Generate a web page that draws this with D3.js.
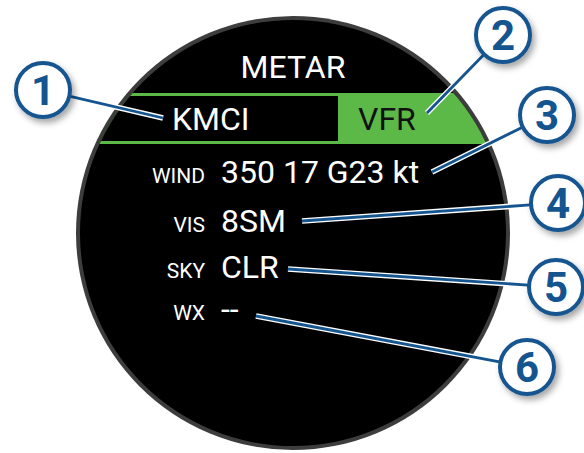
<!DOCTYPE html>
<html>
<head>
<meta charset="utf-8">
<script src="https://cdn.jsdelivr.net/npm/d3@7"></script>
<style>
  html, body { margin: 0; padding: 0; background: #fff; }
  svg { display: block; font-family: Roboto, "Liberation Sans", sans-serif; }
</style>
</head>
<body>
<svg id="vis" width="584" height="453"></svg>
<script>
// screen content
var title = "METAR";
var station = "KMCI";
var category = "VFR";
var rowLabels = ["WIND", "VIS", "SKY", "WX"];
var rowValues = ["350 17 G23 kt", "8SM", "CLR", "--"];
var calloutNumbers = ["1", "2", "3", "4", "5", "6"];

var vis = d3.select("#vis"),
    CX = 293,
    CY = 233,
    R = 217,
    GREEN = "#5db947",
    BLUE = "#14558f";

// row baselines
var yRow = d3.scaleOrdinal()
    .domain(rowLabels)
    .range([183, 232, 278, 320]);

var defs = vis.append("defs");
defs.append("clipPath").attr("id", "face")
  .append("circle").attr("cx", CX).attr("cy", CY).attr("r", R - 4);

var shadow = defs.append("filter").attr("id", "shadow")
    .attr("x", "-50%").attr("y", "-50%").attr("width", "200%").attr("height", "200%");
shadow.append("feDropShadow")
    .attr("dx", 3).attr("dy", 4).attr("stdDeviation", 3)
    .attr("flood-color", "#000").attr("flood-opacity", 0.35);

// watch face
vis.append("circle")
    .attr("cx", CX).attr("cy", CY).attr("r", R)
    .attr("fill", "#3d3d3d");
vis.append("circle")
    .attr("cx", CX).attr("cy", CY).attr("r", R - 4)
    .attr("fill", "#000");

var face = vis.append("g").attr("clip-path", "url(#face)");

// green band with station box
face.append("rect")
    .attr("x", CX - R).attr("y", 93)
    .attr("width", 2 * R).attr("height", 51)
    .attr("fill", GREEN);
face.append("rect")
    .attr("x", CX - R).attr("y", 96)
    .attr("width", 338 - (CX - R)).attr("height", 45)
    .attr("fill", "#000");

face.append("text")
    .attr("x", CX).attr("y", 78)
    .attr("text-anchor", "middle")
    .attr("font-size", 32).attr("fill", "#fff")
    .text(title);

face.append("text")
    .attr("x", 172).attr("y", 130)
    .attr("font-size", 32).attr("fill", "#fff")
    .text(station);

face.append("text")
    .attr("x", 358).attr("y", 130)
    .attr("font-size", 32).attr("fill", "#111")
    .text(category);

// rows
var rows = face.selectAll("g.row")
    .data(rowLabels)
  .enter().append("g")
    .attr("class", "row")
    .attr("transform", function(d) { return "translate(0," + yRow(d) + ")"; });

rows.append("text")
    .attr("x", 205)
    .attr("text-anchor", "end")
    .attr("font-size", 21).attr("fill", "#fff")
    .text(function(d) { return d; });

rows.append("text")
    .attr("x", 221)
    .attr("font-size", 32).attr("fill", "#fff")
    .text(function(d, i) { return rowValues[i]; });

// callouts: bubble centre and leader end
var calloutLayout = [
  {cx: 43, cy: 90, x2: 163, y2: 118},
  {cx: 503, cy: 35, x2: 427, y2: 113},
  {cx: 547, cy: 115, x2: 432, y2: 172},
  {cx: 558, cy: 203, x2: 302, y2: 221},
  {cx: 556, cy: 287, x2: 288, y2: 269},
  {cx: 527, cy: 367, x2: 256, y2: 316}
];
var BR = 27;

var callouts = vis.selectAll("g.callout")
    .data(calloutNumbers)
  .enter().append("g")
    .attr("class", "callout");

function startPoint(i) {
  var c = calloutLayout[i],
      a = Math.atan2(c.y2 - c.cy, c.x2 - c.cx);
  return [c.cx + Math.cos(a) * (BR + 1), c.cy + Math.sin(a) * (BR + 1)];
}

callouts.append("line")
    .attr("x1", function(d, i) { return startPoint(i)[0]; })
    .attr("y1", function(d, i) { return startPoint(i)[1]; })
    .attr("x2", function(d, i) { return calloutLayout[i].x2; })
    .attr("y2", function(d, i) { return calloutLayout[i].y2; })
    .attr("stroke", "#fff").attr("stroke-width", 5.5);

callouts.append("line")
    .attr("x1", function(d, i) { return startPoint(i)[0]; })
    .attr("y1", function(d, i) { return startPoint(i)[1]; })
    .attr("x2", function(d, i) { return calloutLayout[i].x2; })
    .attr("y2", function(d, i) { return calloutLayout[i].y2; })
    .attr("stroke", BLUE).attr("stroke-width", 2.8);

callouts.append("circle")
    .attr("cx", function(d, i) { return calloutLayout[i].cx; })
    .attr("cy", function(d, i) { return calloutLayout[i].cy; })
    .attr("r", BR)
    .attr("fill", "#fff")
    .attr("stroke", BLUE).attr("stroke-width", 4)
    .attr("filter", "url(#shadow)");

callouts.append("text")
    .attr("x", function(d, i) { return calloutLayout[i].cx; })
    .attr("y", function(d, i) { return calloutLayout[i].cy + 15; })
    .attr("text-anchor", "middle")
    .attr("font-size", 42).attr("font-weight", "bold")
    .attr("fill", BLUE)
    .text(function(d) { return d; });
</script>
</body>
</html>
